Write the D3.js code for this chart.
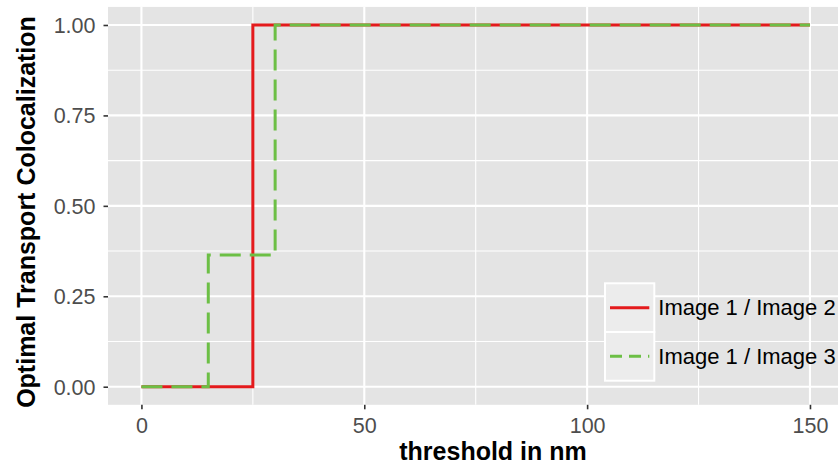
<!DOCTYPE html>
<html>
<head>
<meta charset="utf-8">
<script src="https://cdn.jsdelivr.net/npm/d3@7"></script>
<style>
  html, body { margin: 0; padding: 0; background: #ffffff; }
  svg { display: block; font-family: "Liberation Sans", Arial, Helvetica, sans-serif; }
</style>
</head>
<body>
<svg id="chart" width="838" height="466"></svg>
<script>
// Colocalization curves: value as a function of the distance threshold (nm)
const seriesNames = ["Image 1 / Image 2", "Image 1 / Image 3"];
const seriesColors = ["#e41a1c", "#6cbf45"];
const seriesDash = [null, "21,9"];

const thresholds12 = [0, 25, 150];
const coloc12 = [0, 1, 1];
const thresholds13 = [0, 15, 30, 150];
const coloc13 = [0, 0.364, 1, 1];

const xTickValues = [0, 50, 100, 150];
const xMinorValues = [25, 75, 125];
const yTickValues = [0, 0.25, 0.5, 0.75, 1];
const yMinorValues = [0.125, 0.375, 0.625, 0.875];

const xTitle = "threshold in nm";
const yTitle = "Optimal Transport Colocalization";

const W = 838, H = 466;
const panel = { left: 108, top: 6.9, right: 843.4, bottom: 404.8 };

const svg = d3.select("#chart");

const x = d3.scaleLinear().domain([-7.5, 157.5]).range([panel.left, panel.right]);
const y = d3.scaleLinear().domain([-0.05, 1.05]).range([panel.bottom, panel.top]);

// panel background
svg.append("rect")
  .attr("x", panel.left).attr("y", panel.top)
  .attr("width", panel.right - panel.left).attr("height", panel.bottom - panel.top)
  .attr("fill", "#e4e4e4");

const grid = svg.append("g");
// minor grid
grid.selectAll(".xm").data(xMinorValues).join("line")
  .attr("x1", d => x(d)).attr("x2", d => x(d))
  .attr("y1", panel.top).attr("y2", panel.bottom)
  .attr("stroke", "#ffffff").attr("stroke-width", 1.1);
grid.selectAll(".ym").data(yMinorValues).join("line")
  .attr("y1", d => y(d)).attr("y2", d => y(d))
  .attr("x1", panel.left).attr("x2", panel.right)
  .attr("stroke", "#ffffff").attr("stroke-width", 1.1);
// major grid
grid.selectAll(".xM").data(xTickValues).join("line")
  .attr("x1", d => x(d)).attr("x2", d => x(d))
  .attr("y1", panel.top).attr("y2", panel.bottom)
  .attr("stroke", "#ffffff").attr("stroke-width", 2.1);
grid.selectAll(".yM").data(yTickValues).join("line")
  .attr("y1", d => y(d)).attr("y2", d => y(d))
  .attr("x1", panel.left).attr("x2", panel.right)
  .attr("stroke", "#ffffff").attr("stroke-width", 2.1);

// axes
const xAxis = d3.axisBottom(x).tickValues(xTickValues).tickSizeInner(4.5).tickSizeOuter(0).tickPadding(8).tickFormat(d3.format("d"));
const yAxis = d3.axisLeft(y).tickValues(yTickValues).tickSizeInner(4.5).tickSizeOuter(0).tickPadding(8).tickFormat(d3.format(".2f"));

const gx = svg.append("g").attr("transform", `translate(0,${panel.bottom})`).call(xAxis);
const gy = svg.append("g").attr("transform", `translate(${panel.left},0)`).call(yAxis);
[gx, gy].forEach(g => {
  g.select(".domain").remove();
  g.selectAll(".tick line").attr("stroke", "#333333").attr("stroke-width", 1.6);
  g.selectAll(".tick text")
    .attr("fill", "#4d4d4d")
    .style("font-size", "21.5px")
    .style("font-family", "'Liberation Sans', Arial, sans-serif");
});
gx.selectAll(".tick text").attr("dy", null).attr("y", 27.8);
gy.selectAll(".tick text").attr("dy", null).attr("x", -12.5).attr("y", 7.4);

// step lines
const line = d3.line()
  .x(d => x(d[0]))
  .y(d => y(d[1]))
  .curve(d3.curveStepAfter);

const series = [
  d3.zip(thresholds12, coloc12),
  d3.zip(thresholds13, coloc13)
];

svg.append("g").selectAll("path").data(series).join("path")
  .attr("d", line)
  .attr("fill", "none")
  .attr("stroke", (d, i) => seriesColors[i])
  .attr("stroke-width", 3)
  .attr("stroke-dasharray", (d, i) => seriesDash[i]);

// legend
const keyW = 49.3, keyH = 48.7;
const legend = svg.append("g").attr("transform", "translate(605,283.3)");
const keys = legend.selectAll("g").data(seriesNames).join("g")
  .attr("transform", (d, i) => `translate(0,${i * keyH})`);
keys.append("rect")
  .attr("width", keyW).attr("height", keyH)
  .attr("fill", "#ececec")
  .attr("stroke", "#ffffff").attr("stroke-width", 2);
keys.append("line")
  .attr("x1", 5).attr("x2", keyW - 5)
  .attr("y1", keyH / 2).attr("y2", keyH / 2)
  .attr("stroke", (d, i) => seriesColors[i])
  .attr("stroke-width", 3)
  .attr("stroke-dasharray", (d, i) => seriesDash[i] ? "12,7" : null);
keys.append("text")
  .attr("x", keyW + 4).attr("y", keyH / 2 + 7.8)
  .attr("fill", "#000000")
  .style("font-size", "22px")
  .text(d => d);

// axis titles
svg.append("text")
  .attr("x", 493).attr("y", 460)
  .attr("text-anchor", "middle")
  .style("font-size", "25px").style("font-weight", "bold")
  .attr("fill", "#000000")
  .text(xTitle);

svg.append("text")
  .attr("transform", "translate(35,212) rotate(-90)")
  .attr("text-anchor", "middle")
  .style("font-size", "25px").style("font-weight", "bold")
  .attr("fill", "#000000")
  .text(yTitle);
</script>
</body>
</html>
